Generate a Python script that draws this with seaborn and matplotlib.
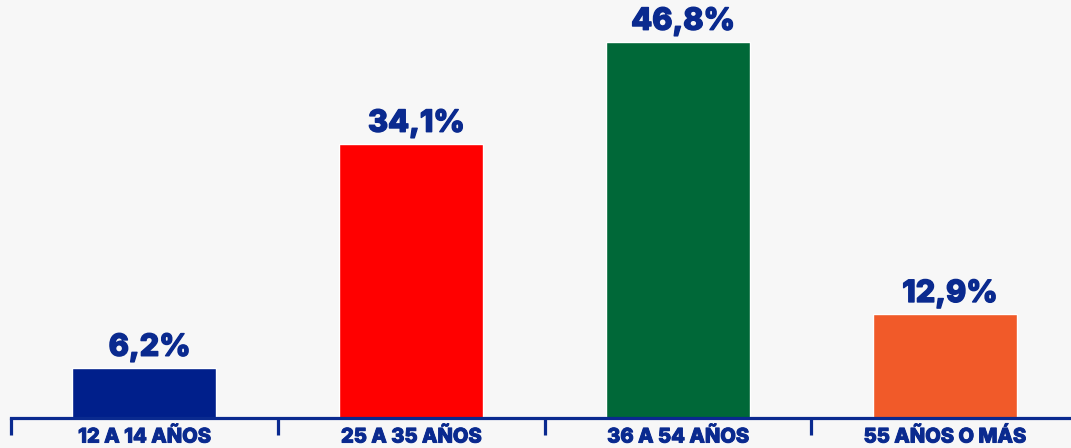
import matplotlib
matplotlib.use("Agg")
import matplotlib.pyplot as plt
import matplotlib.patheffects as pe
import seaborn as sns
import pandas as pd

categories = ["12 A 14 AÑOS", "25 A 35 AÑOS", "36 A 54 AÑOS", "55 AÑOS O MÁS"]
values = [6.2, 34.1, 46.8, 12.9]
labels = ["6,2%", "34,1%", "46,8%", "12,9%"]
colors = ["#001f8b", "#ff0000", "#006838", "#f15a29"]

navy = "#0a2a8f"
bg = "#f7f7f7"

sns.set_theme(style="white")
plt.rcParams['font.family'] = ['Inter', 'DejaVu Sans']

df = pd.DataFrame({"cat": categories, "val": values})

fig = plt.figure(figsize=(10.71, 4.48), dpi=100, facecolor=bg)
ax = fig.add_axes([11/1071, 30/448, 1067/1071, 418/448])
ax.set_facecolor(bg)

sns.barplot(data=df, x="cat", y="val", hue="cat", palette=colors, legend=False,
            width=0.54, ax=ax, saturation=1)

heavy = [pe.withStroke(linewidth=1.0, foreground=navy)]
for i, (v, t) in enumerate(zip(values, labels)):
    ax.text(i + 0.02, v + 0.8, t, ha="center", va="bottom", color=navy,
            fontsize=22, fontweight="heavy", path_effects=heavy)

ax.set_xlim(-0.5, 3.5)
ax.set_ylim(0, 52.05)
ax.set_xlabel("")
ax.set_ylabel("")
ax.set_yticks([])
for s in ["top", "left", "right"]:
    ax.spines[s].set_visible(False)
ax.spines["bottom"].set_color(navy)
ax.spines["bottom"].set_linewidth(2.3)
ax.spines["bottom"].set_zorder(5)

ax.set_xticks(range(len(categories)))
ax.set_xticklabels(categories, color=navy, fontsize=14.5, fontweight="heavy")
for lab in ax.get_xticklabels():
    lab.set_path_effects([pe.withStroke(linewidth=0.7, foreground=navy)])
ax.tick_params(axis="x", which="major", length=0, pad=7)
ax.set_xticks([-0.5, 0.5, 1.5, 2.5, 3.5], minor=True)
ax.tick_params(axis="x", which="minor", length=12.5, width=2.3, color=navy,
               direction="out", bottom=True)

fig.savefig("out.png", dpi=100, facecolor=bg)
